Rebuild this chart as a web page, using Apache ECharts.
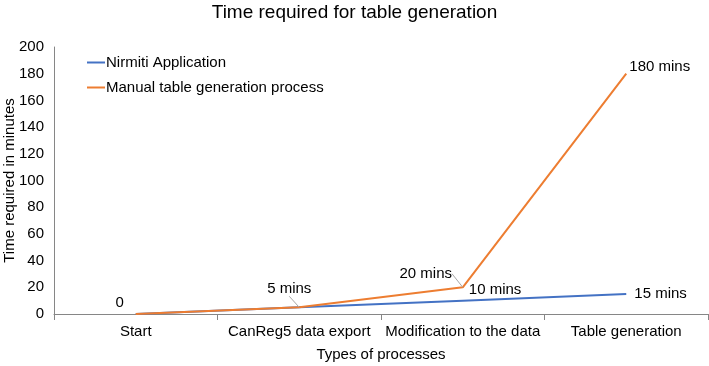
<!DOCTYPE html>
<html>
<head>
<meta charset="utf-8">
<script src="https://cdn.jsdelivr.net/npm/echarts@6/dist/echarts.min.js"></script>
<style>
  html, body { margin: 0; padding: 0; background: #fff; }
  #main { width: 709px; height: 366px; }
</style>
</head>
<body>
<div id="main"></div>
<script>
var categories = ['Start', 'CanReg5 data export', 'Modification to the data', 'Table generation'];
var nirmitiValues = [0, 5, 10, 15];
var manualValues = [0, 5, 20, 180];
var yTicks = [0, 20, 40, 60, 80, 100, 120, 140, 160, 180, 200];

var font = 'Liberation Sans, Arial, sans-serif';

function minsLabel(p) {
  return p.value === 0 ? '0' : p.value + ' mins';
}

// where each label sits relative to its point (dx, dy)
var manualShift = [[-16, 0], [-10, -7], [-37, -2], [0, -7]];

var chart = echarts.init(document.getElementById('main'));
var option = {
  backgroundColor: '#fff',
  textStyle: { fontFamily: font },
  title: {
    text: 'Time required for table generation',
    left: 'center',
    top: -2,
    textStyle: { fontSize: 19, fontWeight: 'normal', color: '#000', fontFamily: font }
  },
  legend: {
    orient: 'vertical',
    left: 82,
    top: 50,
    itemWidth: 18,
    itemHeight: 2,
    itemGap: 10,
    icon: 'rect',
    textStyle: { fontSize: 15, color: '#000', fontFamily: font, padding: [0, 0, 0, -4] },
    data: ['Nirmiti Application', 'Manual table generation process']
  },
  grid: { left: 54, right: 1, top: 47, bottom: 52, outerBoundsMode: 'none', containLabel: false },
  xAxis: {
    type: 'category',
    data: categories,
    boundaryGap: true,
    name: 'Types of processes',
    nameLocation: 'middle',
    nameGap: 33,
    nameMoveOverlap: false,
    nameTextStyle: { fontSize: 15, color: '#000', fontFamily: font },
    axisLine: { lineStyle: { color: '#868686' } },
    axisTick: { show: true, length: 6, lineStyle: { color: '#868686' } },
    axisLabel: { interval: 0, fontSize: 15, color: '#000', margin: 10, fontFamily: font }
  },
  yAxis: {
    type: 'value',
    min: yTicks[0],
    max: yTicks[yTicks.length - 1],
    interval: yTicks[1] - yTicks[0],
    name: 'Time required in minutes',
    nameLocation: 'middle',
    nameGap: 37,
    nameMoveOverlap: false,
    nameTextStyle: { fontSize: 15, color: '#000', fontFamily: font },
    splitLine: { show: false },
    axisLine: { show: true, lineStyle: { color: '#868686' } },
    axisTick: { show: false },
    axisLabel: { fontSize: 15, color: '#000', margin: 10, fontFamily: font }
  },
  series: [
    {
      name: 'Nirmiti Application',
      type: 'line',
      data: nirmitiValues.map(function (v, i) {
        return {
          value: v,
          label: {
            show: i >= 2,
            position: 'right',
            distance: i === 2 ? 6 : 8,
            offset: i === 2 ? [0, -11] : [0, 0]
          }
        };
      }),
      showSymbol: true,
      symbol: 'circle',
      symbolSize: 0.1,
      color: '#4472C4',
      lineStyle: { width: 2, color: '#4472C4' },
      label: { show: true, fontSize: 15, color: '#000', fontFamily: font, formatter: minsLabel }
    },
    {
      name: 'Manual table generation process',
      type: 'line',
      data: manualValues.map(function (v, i) {
        var withLine = i === 1 || i === 2;
        return {
          value: v,
          label: i === 3
            ? { show: true, position: 'right', distance: 3 }
            : { show: true, position: 'top', distance: 4 },
          labelLine: { show: withLine }
        };
      }),
      showSymbol: true,
      symbol: 'circle',
      symbolSize: 0.1,
      color: '#ED7D31',
      lineStyle: { width: 2, color: '#ED7D31' },
      label: { show: true, fontSize: 15, color: '#000', fontFamily: font, formatter: minsLabel },
      labelLine: { show: true, lineStyle: { color: '#a6a6a6', width: 1 } },
      labelLayout: function (p) {
        var s = manualShift[p.dataIndex];
        return { dx: s[0], dy: s[1] };
      }
    }
  ]
};
chart.setOption(option);
</script>
</body>
</html>
